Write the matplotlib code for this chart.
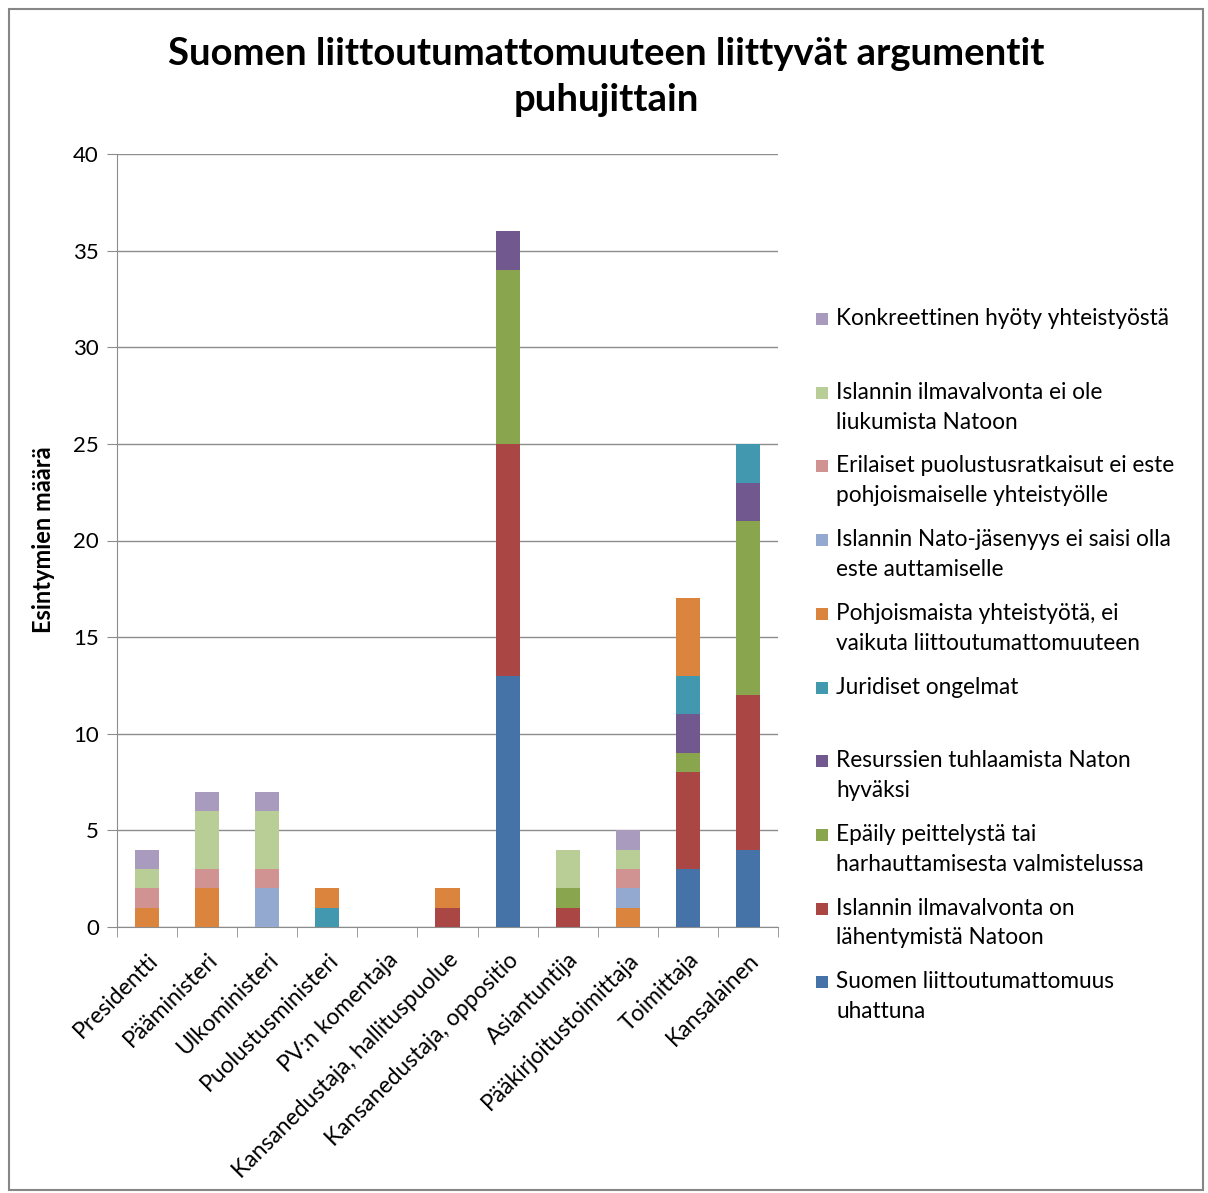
import matplotlib
matplotlib.use("Agg")
import matplotlib.pyplot as plt
from matplotlib.patches import Rectangle
import numpy as np

plt.rcParams['font.family'] = ['Lato', 'DejaVu Sans']

categories = ["Presidentti", "Pääministeri", "Ulkoministeri", "Puolustusministeri",
              "PV:n komentaja", "Kansanedustaja, hallituspuolue", "Kansanedustaja, oppositio",
              "Asiantuntija", "Pääkirjoitustoimittaja", "Toimittaja", "Kansalainen"]

# series in stacking order (bottom -> top)
series_names = [
    "Suomen liittoutumattomuus\nuhattuna",
    "Islannin ilmavalvonta on\nlähentymistä Natoon",
    "Epäily peittelystä tai\nharhauttamisesta valmistelussa",
    "Resurssien tuhlaamista Naton\nhyväksi",
    "Juridiset ongelmat",
    "Pohjoismaista yhteistyötä, ei\nvaikuta liittoutumattomuuteen",
    "Islannin Nato-jäsenyys ei saisi olla\neste auttamiselle",
    "Erilaiset puolustusratkaisut ei este\npohjoismaiselle yhteistyölle",
    "Islannin ilmavalvonta ei ole\nliukumista Natoon",
    "Konkreettinen hyöty yhteistyöstä",
]
suomen_uhattuna = [0, 0, 0, 0, 0, 0, 13, 0, 0, 3, 4]
ilmavalvonta_lahentymista = [0, 0, 0, 0, 0, 1, 12, 1, 0, 5, 8]
epaily_peittelysta = [0, 0, 0, 0, 0, 0, 9, 1, 0, 1, 9]
resurssien_tuhlaamista = [0, 0, 0, 0, 0, 0, 2, 0, 0, 2, 2]
juridiset_ongelmat = [0, 0, 0, 1, 0, 0, 0, 0, 0, 2, 2]
pohjoismaista_yhteistyota = [1, 2, 0, 1, 0, 1, 0, 0, 1, 4, 0]
islannin_nato_jasenyys = [0, 0, 2, 0, 0, 0, 0, 0, 1, 0, 0]
erilaiset_puolustusratkaisut = [1, 1, 1, 0, 0, 0, 0, 0, 1, 0, 0]
ilmavalvonta_ei_liukumista = [1, 3, 3, 0, 0, 0, 0, 2, 1, 0, 0]
konkreettinen_hyoty = [1, 1, 1, 0, 0, 0, 0, 0, 1, 0, 0]

series_values = [suomen_uhattuna, ilmavalvonta_lahentymista, epaily_peittelysta,
                 resurssien_tuhlaamista, juridiset_ongelmat, pohjoismaista_yhteistyota,
                 islannin_nato_jasenyys, erilaiset_puolustusratkaisut,
                 ilmavalvonta_ei_liukumista, konkreettinen_hyoty]
colors = ["#4572A7", "#AA4643", "#89A54E", "#71588F", "#4198AF", "#DB843D",
          "#93A9CF", "#D19392", "#B9CD96", "#A99BBD"]

W, H = 1208, 1193
fig = plt.figure(figsize=(W / 100, H / 100), dpi=100)
fig.patch.set_facecolor("white")

# outer border
fig.add_artist(Rectangle((9 / W, 3 / H), (1203 - 9) / W, (1184 - 3) / H,
                         transform=fig.transFigure, fill=False,
                         edgecolor="#868686", linewidth=1.5))

ax_l, ax_r, ax_t, ax_b = 117, 778, 154, 927
ax = fig.add_axes([ax_l / W, 1 - ax_b / H, (ax_r - ax_l) / W, (ax_b - ax_t) / H])

x = np.arange(len(categories))
bottom = np.zeros(len(categories))
for name, vals, c in zip(series_names, series_values, colors):
    v = np.array(vals, dtype=float)
    ax.bar(x, v, width=0.4, bottom=bottom, color=c, zorder=3, linewidth=0)
    bottom += v

ax.set_xlim(-0.5, len(categories) - 0.5)
ax.set_ylim(0, 40)
ax.set_yticks(range(0, 41, 5))
ax.yaxis.grid(True, color="#8c8c8c", linewidth=1.0, zorder=0)
ax.set_axisbelow(True)
for s in ["top", "right"]:
    ax.spines[s].set_visible(False)
ax.spines["left"].set_color("#8c8c8c")
ax.spines["bottom"].set_color("#8c8c8c")
ax.tick_params(axis="y", length=7, color="#8c8c8c", labelsize=16, pad=6)
ax.set_xticks(np.arange(-0.5, len(categories), 1.0), minor=True)
ax.set_xticks(x)
ax.set_xticklabels(categories, rotation=45, ha="right", rotation_mode="anchor",
                   fontsize=16.5)
ax.tick_params(axis="x", which="major", length=0, pad=16)
ax.tick_params(axis="x", which="minor", length=7, color="#8c8c8c")
ax.set_ylabel("Esintymien määrä", fontsize=17, fontweight="bold")
ax.yaxis.set_label_coords((55 - ax_l) / (ax_r - ax_l), (927 - 540) / (ax_b - ax_t))

fig.text(606 / W, 1 - 77 / H, "Suomen liittoutumattomuuteen liittyvät argumentit\npuhujittain",
         ha="center", va="center", fontsize=27.5, fontweight="bold", linespacing=1.42)

# legend drawn manually (top to bottom = reverse stacking order)
y0 = 319
step = 73.7
for i, idx in enumerate(range(len(series_names) - 1, -1, -1)):
    yc = y0 + i * step
    fig.add_artist(Rectangle((816 / W, 1 - (yc + 6) / H), 12 / W, 12 / H,
                             transform=fig.transFigure, color=colors[idx], linewidth=0))
    fig.text(836 / W, 1 - (yc - 11) / H, series_names[idx], ha="left", va="top",
             fontsize=16.3, linespacing=1.52)

fig.savefig("out.png", dpi=100, facecolor="white")
